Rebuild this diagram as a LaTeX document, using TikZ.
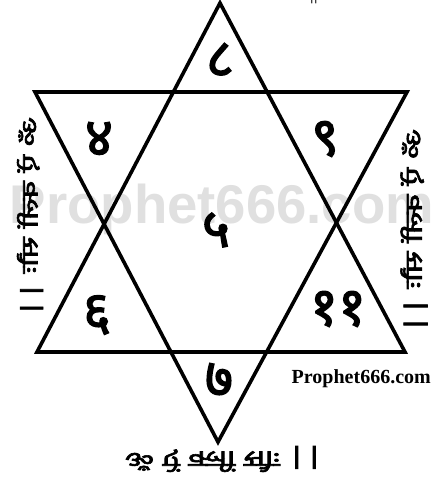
\documentclass[tikz,border=0pt]{standalone}
\usepackage{fontspec}
\usepackage{graphicx}
\newfontfamily\deva[Script=Devanagari]{Noto Sans}
\newfontfamily\devab[Script=Devanagari,FakeBold=2.5]{Noto Sans}
\newfontfamily\wmfont{Liberation Sans}
\newfontfamily\serifb{Liberation Serif}
\newcommand{\mymantra}{\devab ॐ ऐं क्लीं सौः ||}
\definecolor{wmgray}{RGB}{224,224,224}
\tikzset{
  starline/.style={line width=3.6pt, line join=miter, line cap=butt},
  digit/.style={font=\devab\fontsize{54}{54}\selectfont, inner sep=0pt},
  mantra/.style={inner sep=0pt}
}
\begin{document}
\begin{tikzpicture}[x=1pt,y=-1pt]
\useasboundingbox (0,0) rectangle (432,483);
\clip (0,0) rectangle (432,483);
\fill[white] (0,0) rectangle (432,483);
% watermark
\node[inner sep=0pt, text=wmgray] (wm) at (222,209) {\resizebox{424pt}{!}{\wmfont\bfseries Prophet666.com}};
% star
\coordinate (A) at (220,3);
\coordinate (B) at (37,352);
\coordinate (C) at (405,352);
\coordinate (D) at (35,92);
\coordinate (E) at (407,92);
\coordinate (F) at (218,442);
\draw[starline] (A) -- (B) -- (C) -- cycle;
\draw[starline] (D) -- (E) -- (F) -- cycle;
% digits
\node[digit] (d8) at (220,60) {८};
\node[digit] (d4) at (99,139) {४};
\node[digit] (d9) at (325,139) {९};
\node[digit] (d5) at (216,230) {५};
\node[digit] (d6) at (97,315) {६};
\node[digit] (d11) at (338,309) {११};
\node[digit] (d7) at (219,380) {७};
% mantras
\node[mantra] (mb) at (224,459) {\resizebox*{198pt}{26pt}{\scalebox{1}[-1]{\mymantra}}};
\node[mantra] (mr) at (414,231) {\rotatebox{-90}{\resizebox*{204pt}{27pt}{\scalebox{1}[-1]{\mymantra}}}};
\node[mantra] (ml) at (30,217) {\rotatebox{-90}{\resizebox*{200pt}{26pt}{\scalebox{1}[-1]{\mymantra}}}};
\node[inner sep=0pt, anchor=south, font=\serifb\fontsize{20}{20}\selectfont] (top) at (314,4) {||};
% credit
\node[inner sep=0pt, anchor=base east, font=\serifb\bfseries\fontsize{20}{20}\selectfont] (credit) at (431,383) {Prophet666.com};
\end{tikzpicture}
\end{document}
